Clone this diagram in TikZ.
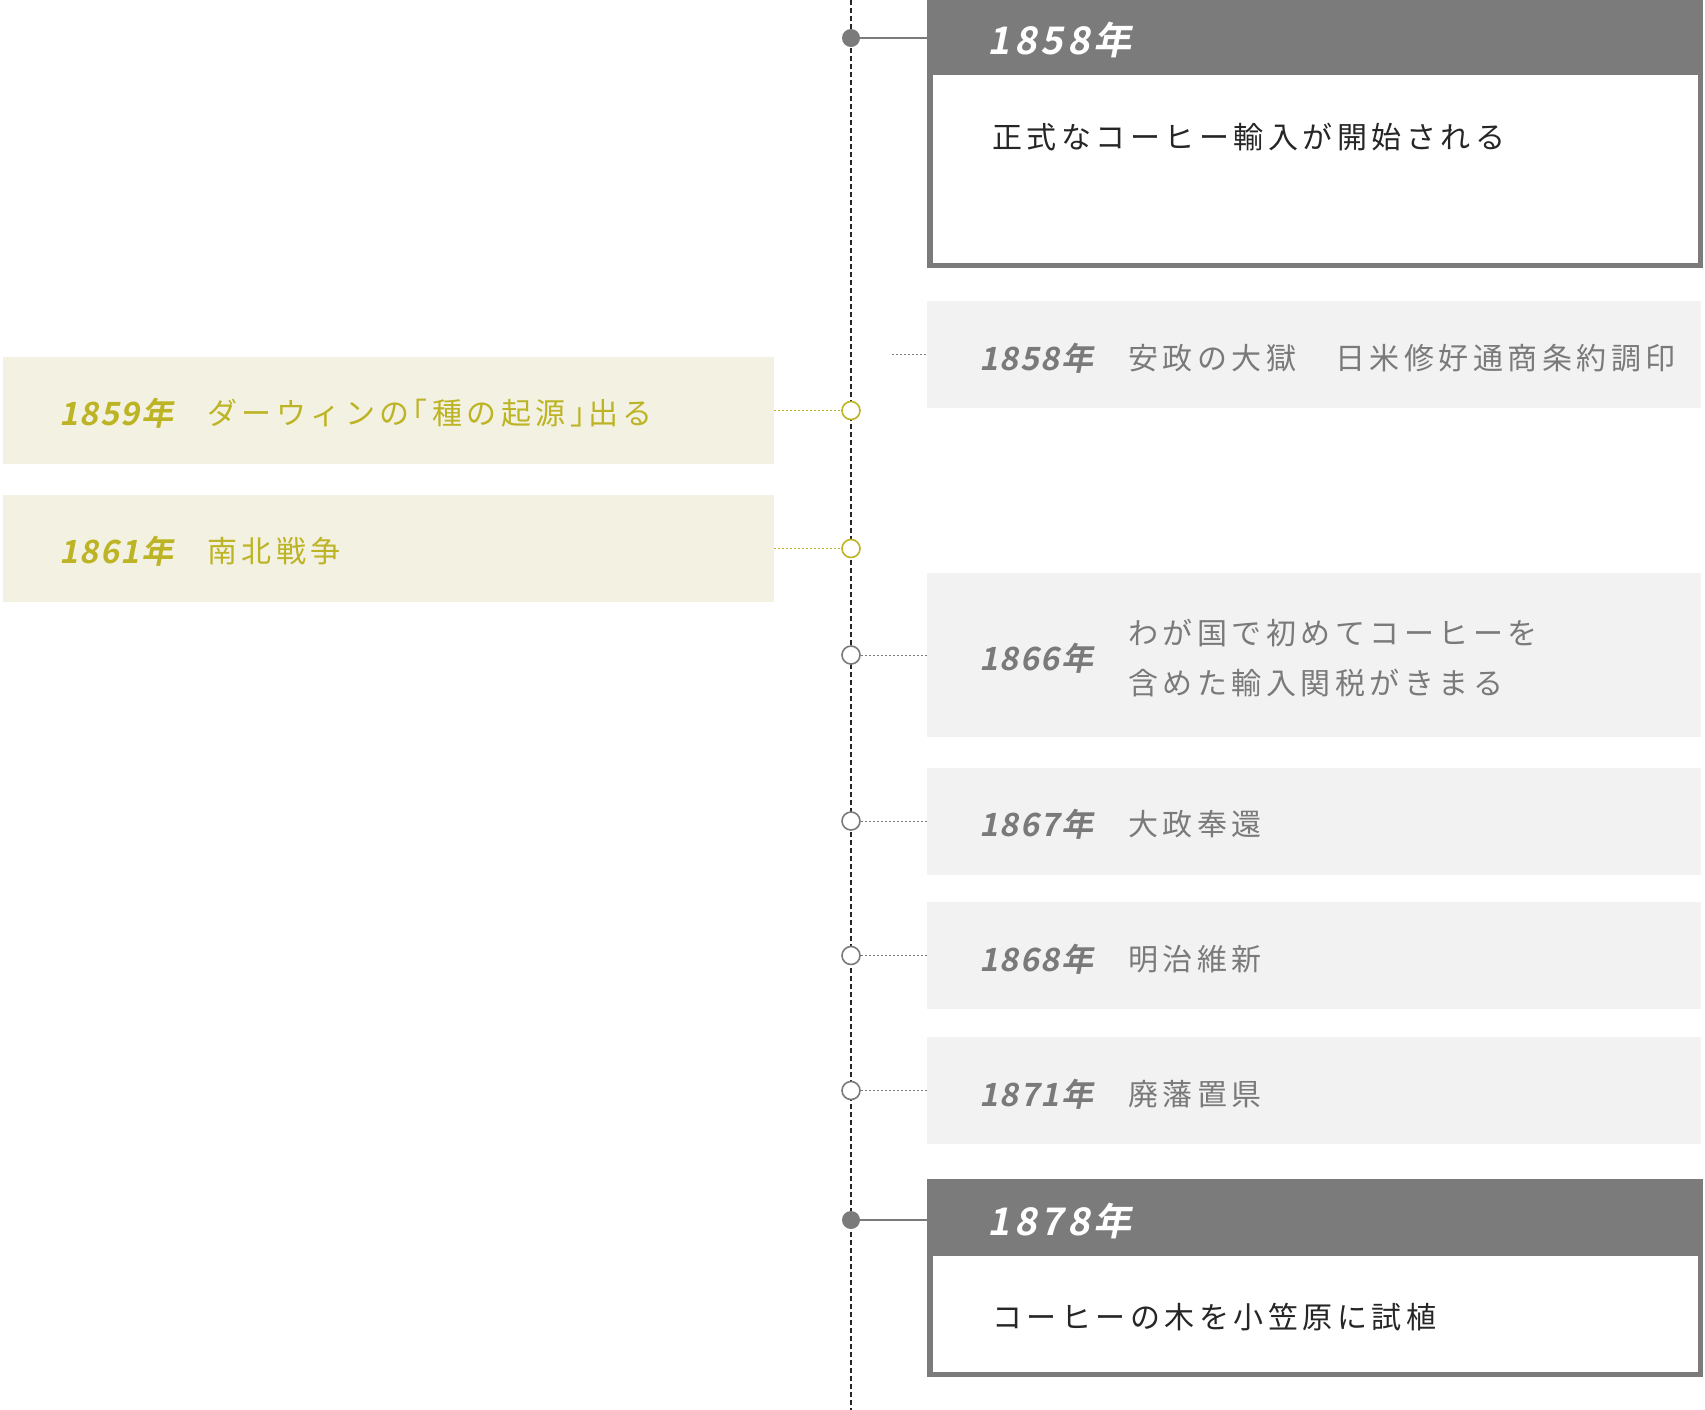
\documentclass[tikz,border=0pt]{standalone}
\usepackage{fontspec}
\usepackage{tikz}
\usetikzlibrary{calc,positioning}

\newfontfamily\evfont[LetterSpace=15]{Noto Sans CJK JP}
\newfontfamily\hdfont[LetterSpace=15]{Noto Sans CJK JP}
\newfontfamily\yrfont[FakeSlant=0.2,LetterSpace=5]{Noto Sans CJK JP Bold}
\newfontfamily\hdyrfont[FakeSlant=0.2,LetterSpace=11]{Noto Sans CJK JP Bold}

\definecolor{hdgray}{RGB}{123,123,123}
\definecolor{boxgray}{RGB}{242,242,242}
\definecolor{txtgray}{RGB}{122,122,122}
\definecolor{boxolive}{RGB}{243,241,225}
\definecolor{olivetxt}{RGB}{188,180,36}

\tikzset{
  evbox/.style={fill=boxgray, minimum width=387pt, minimum height=53.5pt, inner sep=0pt},
  olbox/.style={fill=boxolive, minimum width=385.5pt, minimum height=53.5pt, inner sep=0pt},
  hdbox/.style={fill=hdgray, anchor=north west, minimum width=388pt, inner sep=0pt},
  yr/.style={font=\yrfont\fontsize{16pt}{18pt}\selectfont, text=#1, anchor=west, inner sep=0pt},
  ev/.style={font=\evfont\fontsize{15pt}{25pt}\selectfont, text=#1, anchor=west, inner sep=0pt, align=left},
  hdyr/.style={font=\hdyrfont\fontsize{19pt}{22pt}\selectfont, text=white, anchor=west, inner sep=0pt},
  hdtxt/.style={font=\hdfont\fontsize{15pt}{18pt}\selectfont, text=black!85, anchor=west, inner sep=0pt},
  ring/.style={circle, draw=#1, fill=white, line width=0.8pt, minimum size=9pt, inner sep=0pt},
  dotfull/.style={circle, fill=hdgray, minimum size=9pt, inner sep=0pt},
  link/.style={draw=#1, dash pattern=on 1pt off 1pt, line width=0.5pt}
}

\begin{document}
\begin{tikzpicture}[x=0.5pt, y=-0.5pt]
  \useasboundingbox (0,0) rectangle (1705,1410);
  % timeline axis
  \coordinate (axtop) at (851,0);
  \coordinate (axbot) at (851,1410);
  \draw[black!85, line width=0.75pt, dash pattern=on 2.5pt off 1.5pt] (axtop) -- (axbot);

  % 1858 header box
  \node[hdbox, minimum height=134pt] (h1858) at (927,0) {};
  \fill[white] ($(h1858.north west)+(6,75)$) rectangle ($(h1858.south east)+(-6,-6)$);
  \node[hdyr] (y1858) at (987,40) {1858年};
  \node[hdtxt] (t1858) at (992,137) {正式なコーヒー輸入が開始される};
  \node[dotfull] (d1858) at (851,38) {};
  \draw[hdgray, line width=1pt] (d1858) -- (d1858 -| h1858.west);

  % right column events
  \node[evbox] (e1858) at (1314,354.5) {};
  \node[yr=txtgray] (ey1858) at (979,358) {1858年};
  \node[ev=txtgray] (et1858) at (1128,358) {安政の大獄　日米修好通商条約調印};
  \coordinate (s1858) at (892,354.5);
  \draw[link=txtgray] (s1858) -- (e1858);

  \node[evbox, minimum height=82pt] (e1866) at (1314,655) {};
  \node[yr=txtgray] (ey1866) at (979,658) {1866年};
  \node[ev=txtgray] (et1866) at (1128,658) {わが国で初めてコーヒーを\\含めた輸入関税がきまる};
  \node[ring=txtgray] (c1866) at (851,655) {};
  \draw[link=txtgray] (c1866) -- (e1866);

  \node[evbox] (e1867) at (1314,821) {};
  \node[yr=txtgray] (ey1867) at (979,824) {1867年};
  \node[ev=txtgray] (et1867) at (1128,824) {大政奉還};
  \node[ring=txtgray] (c1867) at (851,821) {};
  \draw[link=txtgray] (c1867) -- (e1867);

  \node[evbox] (e1868) at (1314,955.5) {};
  \node[yr=txtgray] (ey1868) at (979,959) {1868年};
  \node[ev=txtgray] (et1868) at (1128,959) {明治維新};
  \node[ring=txtgray] (c1868) at (851,955.5) {};
  \draw[link=txtgray] (c1868) -- (e1868);

  \node[evbox] (e1871) at (1314,1090.5) {};
  \node[yr=txtgray] (ey1871) at (979,1094) {1871年};
  \node[ev=txtgray] (et1871) at (1128,1094) {廃藩置県};
  \node[ring=txtgray] (c1871) at (851,1090.5) {};
  \draw[link=txtgray] (c1871) -- (e1871);

  % left column (world events)
  \node[olbox] (o1859) at (388.5,410.5) {};
  \node[yr=olivetxt] (oy1859) at (59,413) {1859年};
  \node[ev=olivetxt] (ot1859) at (207,413) {ダーウィンの\kern-6pt「種の起源」\kern-6pt出る};
  \node[ring=olivetxt] (c1859) at (851,410.5) {};
  \draw[link=olivetxt] (o1859) -- (c1859);

  \node[olbox] (o1861) at (388.5,548.5) {};
  \node[yr=olivetxt] (oy1861) at (59,551) {1861年};
  \node[ev=olivetxt] (ot1861) at (207,551) {南北戦争};
  \node[ring=olivetxt] (c1861) at (851,548.5) {};
  \draw[link=olivetxt] (o1861) -- (c1861);

  % 1878 header box
  \node[hdbox, minimum height=99pt] (h1878) at (927,1179) {};
  \fill[white] ($(h1878.north west)+(6,77)$) rectangle ($(h1878.south east)+(-6,-6)$);
  \node[hdyr] (y1878) at (987,1221) {1878年};
  \node[hdtxt] (t1878) at (992,1317) {コーヒーの木を小笠原に試植};
  \node[dotfull] (d1878) at (851,1220) {};
  \draw[hdgray, line width=1pt] (d1878) -- (d1878 -| h1878.west);
\end{tikzpicture}
\end{document}
